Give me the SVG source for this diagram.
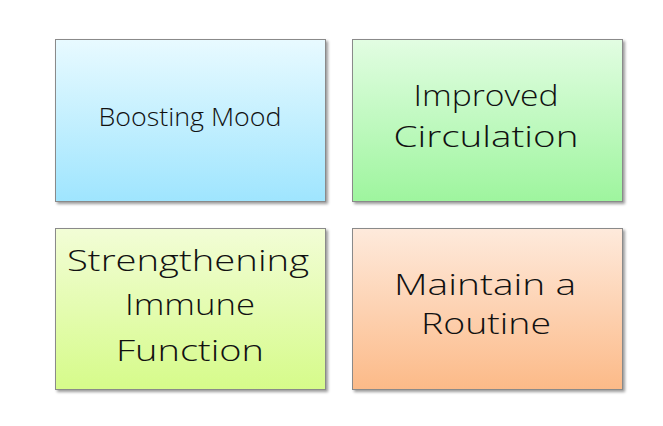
<svg xmlns="http://www.w3.org/2000/svg" width="663" height="426" viewBox="0 0 663 426">
<style>
.box{stroke:#8a8a8a;stroke-width:1}
.t{font-family:"Open Sans","DejaVu Sans",sans-serif;fill:#111;text-anchor:middle;font-weight:300}
</style>
<defs>
<linearGradient id="gb" x1="0" y1="0" x2="0" y2="1"><stop offset="0" stop-color="#e8faff"/><stop offset="1" stop-color="#9fe5fe"/></linearGradient>
<linearGradient id="gg" x1="0" y1="0" x2="0" y2="1"><stop offset="0" stop-color="#e2fde2"/><stop offset="1" stop-color="#9ef59e"/></linearGradient>
<linearGradient id="gy" x1="0" y1="0" x2="0" y2="1"><stop offset="0" stop-color="#f2fdd6"/><stop offset="1" stop-color="#d6fb8a"/></linearGradient>
<linearGradient id="go" x1="0" y1="0" x2="0" y2="1"><stop offset="0" stop-color="#feeadc"/><stop offset="1" stop-color="#fcba88"/></linearGradient>
<filter id="sh" x="-5%" y="-5%" width="115%" height="115%"><feGaussianBlur in="SourceAlpha" stdDeviation="1.5"/><feOffset dx="1.5" dy="2" result="o"/><feComponentTransfer><feFuncA type="linear" slope="0.4"/></feComponentTransfer><feMerge><feMergeNode/><feMergeNode in="SourceGraphic"/></feMerge></filter>
</defs>
<rect width="663" height="426" fill="#fff"/>
<g id="node-boosting-mood">
<rect class="box" x="55.5" y="39.5" width="270" height="162" fill="url(#gb)" filter="url(#sh)"/>
<text class="t" x="190" y="126" font-size="25" textLength="183" lengthAdjust="spacingAndGlyphs">Boosting Mood</text>
</g>
<g id="node-improved-circulation">
<rect class="box" x="352.5" y="39.5" width="270" height="162" fill="url(#gg)" filter="url(#sh)"/>
<text class="t" x="486" y="106" font-size="30" textLength="145" lengthAdjust="spacingAndGlyphs">Improved</text>
<text class="t" x="486" y="147" font-size="30" textLength="185" lengthAdjust="spacingAndGlyphs">Circulation</text>
</g>
<g id="node-strengthening-immune-function">
<rect class="box" x="55.5" y="228.5" width="270" height="161" fill="url(#gy)" filter="url(#sh)"/>
<text class="t" x="188" y="271" font-size="30" textLength="242" lengthAdjust="spacingAndGlyphs">Strengthening</text>
<text class="t" x="190" y="315" font-size="30" textLength="130" lengthAdjust="spacingAndGlyphs">Immune</text>
<text class="t" x="190" y="361" font-size="30" textLength="148" lengthAdjust="spacingAndGlyphs">Function</text>
</g>
<g id="node-maintain-routine">
<rect class="box" x="352.5" y="228.5" width="270" height="161" fill="url(#go)" filter="url(#sh)"/>
<text class="t" x="485" y="295" font-size="30" textLength="182" lengthAdjust="spacingAndGlyphs">Maintain a</text>
<text class="t" x="486" y="334" font-size="30" textLength="130" lengthAdjust="spacingAndGlyphs">Routine</text>
</g>
<g id="connectors"></g>
</svg>
